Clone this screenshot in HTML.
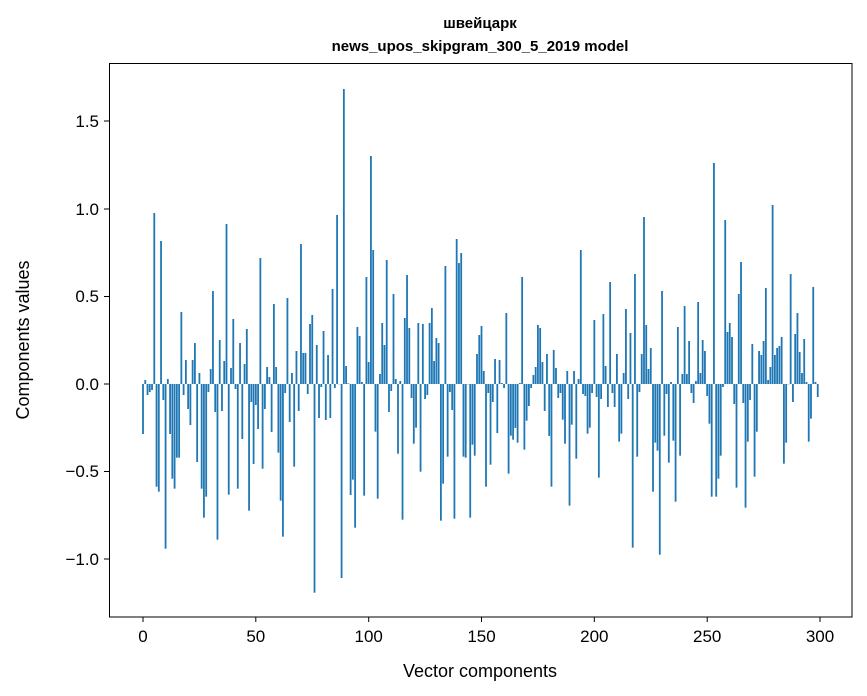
<!DOCTYPE html>
<html><head><meta charset="utf-8"><style>
html,body{margin:0;padding:0;background:#fff}
svg{display:block;font-family:"Liberation Sans","DejaVu Sans","Noto Sans CJK SC",sans-serif}
</style></head><body>
<svg id="s" width="867" height="696" viewBox="0 0 867 696" xmlns="http://www.w3.org/2000/svg">
<rect width="867" height="696" fill="#fff"/>
<text x="480" y="28" text-anchor="middle" font-size="15" font-weight="bold">швейцарк</text>
<text x="480" y="51" text-anchor="middle" font-size="15" font-weight="bold">news_upos_skipgram_300_5_2019 model</text>
<g id="bars" fill="#1f77b4"></g>
<rect x="109.5" y="63.5" width="742.5" height="553.5" fill="none" stroke="#000" stroke-width="1"/>
<g stroke="#000" stroke-width="1">
<line x1="143" y1="617" x2="143" y2="622"/><line x1="255.8" y1="617" x2="255.8" y2="622"/><line x1="368.7" y1="617" x2="368.7" y2="622"/><line x1="481.5" y1="617" x2="481.5" y2="622"/><line x1="594.3" y1="617" x2="594.3" y2="622"/><line x1="707.2" y1="617" x2="707.2" y2="622"/><line x1="820" y1="617" x2="820" y2="622"/>
<line x1="104" y1="121" x2="109" y2="121"/><line x1="104" y1="209" x2="109" y2="209"/><line x1="104" y1="296.5" x2="109" y2="296.5"/><line x1="104" y1="384" x2="109" y2="384"/><line x1="104" y1="471.5" x2="109" y2="471.5"/><line x1="104" y1="559" x2="109" y2="559"/>
</g>
<g font-size="17" text-anchor="middle">
<text x="143" y="642">0</text><text x="255.8" y="642">50</text><text x="368.7" y="642">100</text><text x="481.5" y="642">150</text><text x="594.3" y="642">200</text><text x="707.2" y="642">250</text><text x="820" y="642">300</text>
</g>
<g font-size="17" text-anchor="end">
<text x="99" y="127">1.5</text><text x="99" y="215">1.0</text><text x="99" y="302">0.5</text><text x="99" y="390">0.0</text><text x="99" y="477">−0.5</text><text x="99" y="565">−1.0</text>
</g>
<text x="480" y="677" text-anchor="middle" font-size="18">Vector components</text>
<text transform="translate(29,340) rotate(-90)" text-anchor="middle" font-size="18">Components values</text>
</svg>
<script>
var d=[1062,900,945,936,930,399,1220,1235,483,960,1406,897,1062,1196,1226,1133,1133,696,945,840,987,1035,840,789,1146,879,1226,1313,1250,936,867,633,996,1379,780,993,843,432,1244,864,717,927,1226,789,1077,852,747,1292,966,1152,975,1047,534,1166,987,861,891,1056,672,861,1118,1262,1370,939,654,1026,879,1160,813,993,492,819,819,942,732,705,1538,795,1014,921,753,1020,825,1014,627,924,405,912,1494,27,858,910,1245,1199,1343,741,768,906,1247,591,846,228,510,1055,1256,882,729,795,540,996,933,642,897,1121,903,1319,714,585,744,954,1091,1043,729,1175,732,957,945,729,684,843,774,789,1322,1211,558,1130,936,990,1316,477,549,519,1130,1133,912,1313,1094,1127,822,765,738,873,1220,939,1154,966,837,1059,840,909,924,699,1181,1067,1079,1044,1088,909,591,1109,1022,978,924,885,861,735,744,846,993,822,1068,1220,810,864,954,939,1019,1091,873,1277,1034,873,1136,897,510,942,948,1061,1043,939,720,951,1193,957,702,858,981,606,939,981,822,1085,1061,879,687,957,759,1403,582,1130,936,822,411,735,867,804,1235,1088,1112,1424,633,1067,942,1148,906,1082,1265,741,1127,882,678,882,783,939,969,903,666,879,780,813,948,1031,1250,249,1250,1196,1127,921,420,756,729,771,972,1223,642,546,969,1283,1085,960,792,1190,1055,813,825,783,624,900,861,375,825,804,798,771,1151,1088,912,582,966,762,699,816,879,777,906,1085,1016,621,906,951];
var h='';for(var i=0;i<d.length;i++){var yv=80+d[i]/3,x=143+2.2567*i-0.9;var y0=Math.min(384,yv),hh=Math.abs(yv-384);if(hh<0.3)hh=0.3;h+='<rect x="'+x.toFixed(2)+'" y="'+y0.toFixed(2)+'" width="1.8" height="'+hh.toFixed(2)+'"/>';}
document.getElementById('bars').innerHTML=h;
</script>
</body></html>
